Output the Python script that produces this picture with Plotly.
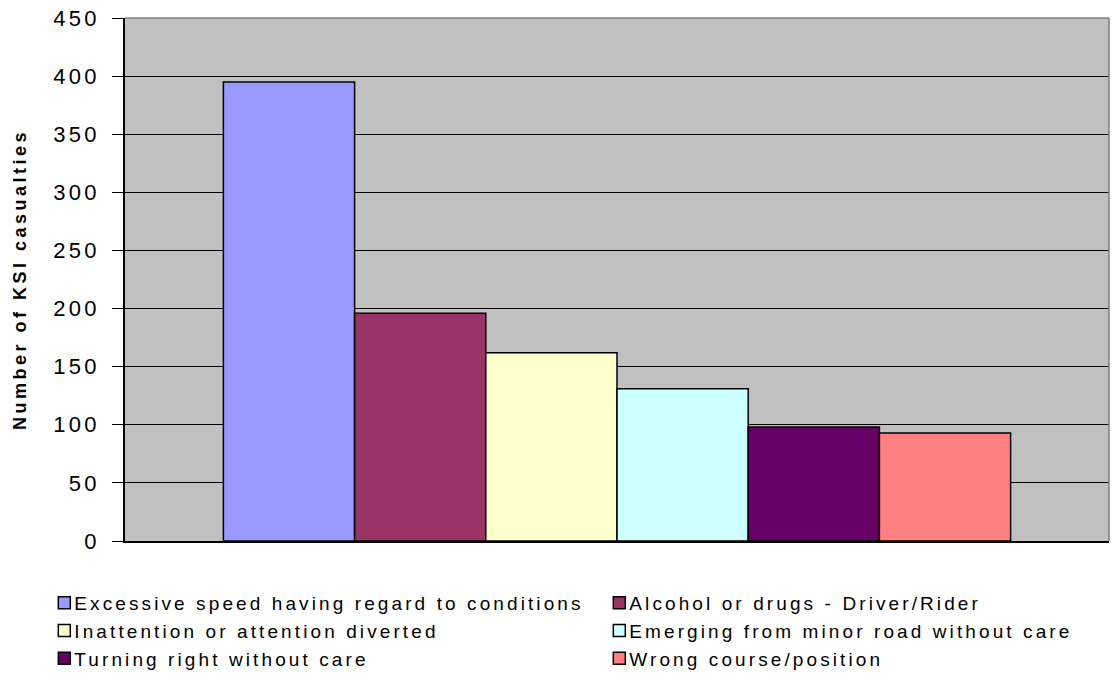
import plotly.graph_objects as go

categories = ["KSI casualties"]
series_names = [
    "Excessive speed having regard to conditions",
    "Alcohol or drugs - Driver/Rider",
    "Inattention or attention diverted",
    "Emerging from minor road without care",
    "Turning right without care",
    "Wrong course/position",
]
values = [395, 196, 162, 131, 98, 93]
colors = ["#9999FF", "#993366", "#FFFFCC", "#CCFFFF", "#660066", "#FF8080"]
y_ticks = [0, 50, 100, 150, 200, 250, 300, 350, 400, 450]

fig = go.Figure()
for name, v, c in zip(series_names, values, colors):
    fig.add_bar(x=categories, y=[v], name=name, marker_color=c,
                marker_line=dict(color="black", width=1.5))

FONT = "Liberation Sans, Arial, sans-serif"
fig.update_layout(
    width=1113, height=688,
    margin=dict(l=125, r=4, t=18, b=147, autoexpand=False),
    barmode="group", bargap=0.2, bargroupgap=0,
    plot_bgcolor="#C0C0C0", paper_bgcolor="white",
    font=dict(family=FONT, color="black"),
    showlegend=True,
    legend=dict(orientation="h", x=-0.082, y=-0.082, xanchor="left", yanchor="top",
                entrywidth=510, entrywidthmode="pixels",
                font=dict(size=19, family=FONT), bgcolor="rgba(0,0,0,0)",
                traceorder="normal"),
    shapes=[
        dict(type="line", xref="paper", yref="paper", x0=0, x1=1, y0=1, y1=1,
             line=dict(color="#808080", width=1.5), layer="above"),
        dict(type="line", xref="paper", yref="paper", x0=1, x1=1, y0=0, y1=1,
             line=dict(color="#808080", width=1.5), layer="above"),
    ],
)
fig.update_yaxes(range=[0, 450], tickvals=y_ticks, ticktext=[str(t) for t in y_ticks],
                 showgrid=True, gridcolor="black", gridwidth=1,
                 showline=True, linecolor="black", linewidth=1.5,
                 ticks="outside", ticklen=11, tickcolor="black", tickwidth=1,
                 ticklabelstandoff=8,
                 tickfont=dict(size=22, family=FONT),
                 title=dict(text="<b>Number of KSI casualties</b>", font=dict(size=18, family=FONT), standoff=31),
                 zeroline=False)
fig.update_xaxes(showticklabels=False, showline=True, linecolor="black", linewidth=1.5,
                 showgrid=False, ticks="")

post = """
document.body.style.margin='0';
var s=document.createElement('style');
s.innerHTML='.legendtext{letter-spacing:3.1px; transform: translateX(-10px);} .ytick text{letter-spacing:3.3px;} .g-ytitle text{letter-spacing:3.5px;}';
document.head.appendChild(s);
var gd=document.getElementById('{plot_id}');
Plotly.relayout(gd, {'yaxis.title.standoff': 32});
"""
fig.write_html("out.html", post_script=post, config={"displayModeBar": False})
